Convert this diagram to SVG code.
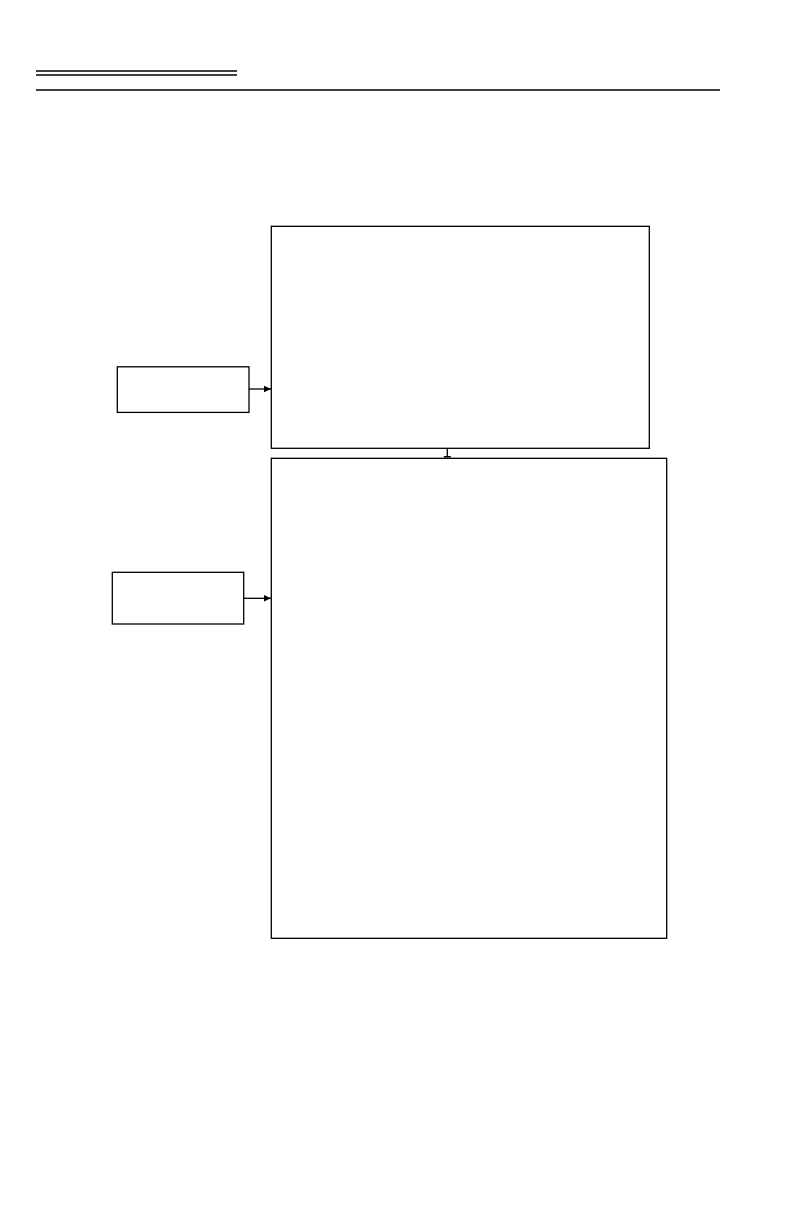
<svg xmlns="http://www.w3.org/2000/svg" width="792" height="1224" viewBox="0 0 792 1224">
<style>
.box{fill:#fff;stroke:#000;stroke-width:1.3}
.rule{stroke:#000;stroke-width:1.3;fill:none}
.conn{stroke:#000;stroke-width:1.3;fill:none}
</style>
<defs>
<marker id="arr" markerWidth="8" markerHeight="8" refX="7" refY="4" orient="auto" markerUnits="userSpaceOnUse">
<path d="M0,0.8 L7,4 L0,7.2 Z" fill="#000"/>
</marker>
<marker id="tick" markerWidth="4" markerHeight="8" refX="2" refY="4" orient="auto" markerUnits="userSpaceOnUse">
<path d="M0,0.5 L2,0.5 L2,7.5 L0,7.5 Z" fill="#000"/>
</marker>
</defs>
<rect width="792" height="1224" fill="#fff"/>
<g id="header">
<line class="rule" x1="36" y1="71" x2="237" y2="71"/>
<line class="rule" x1="36" y1="75" x2="237" y2="75"/>
<line class="rule" x1="36" y1="90" x2="720" y2="90"/>
</g>
<g id="node-main1"><rect class="box" x="271.3" y="226.3" width="378" height="222"/></g>
<g id="node-main2"><rect class="box" x="271.3" y="458.3" width="395.4" height="480"/></g>
<g id="node-side1"><rect class="box" x="117.3" y="366.8" width="131.7" height="45.6"/></g>
<g id="node-side2"><rect class="box" x="112.3" y="572.3" width="131.4" height="51.7"/></g>
<g id="connectors">
<line class="conn" x1="249" y1="389" x2="271" y2="389" marker-end="url(#arr)"/>
<line class="conn" x1="243.7" y1="598.3" x2="271" y2="598.3" marker-end="url(#arr)"/>
<line class="conn" x1="447.3" y1="448.3" x2="447.3" y2="457.5" marker-end="url(#tick)"/>
</g>
</svg>
